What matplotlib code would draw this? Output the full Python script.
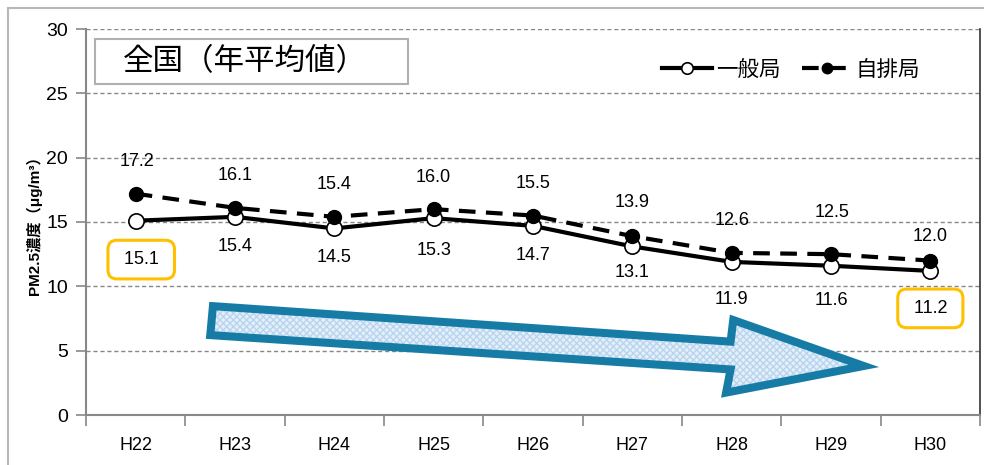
import numpy as np
import matplotlib
matplotlib.use("Agg")
import matplotlib.pyplot as plt
from matplotlib.patches import Polygon, Rectangle
from matplotlib.lines import Line2D

plt.rcParams['font.family'] = ['Liberation Sans', 'Noto Sans CJK JP', 'DejaVu Sans']

years = ['H22', 'H23', 'H24', 'H25', 'H26', 'H27', 'H28', 'H29', 'H30']
ippan = [15.1, 15.4, 14.5, 15.3, 14.7, 13.1, 11.9, 11.6, 11.2]   # 一般局
jihai = [17.2, 16.1, 15.4, 16.0, 15.5, 13.9, 12.6, 12.5, 12.0]   # 自排局

# label offsets in points (hand tuned like the original)
off_up = [23, 23, 23, 23, 23, 24, 23, 30, 17]
off_dn = [-28, -21, -21, -23, -21, -19, -27, -25, -27]
dx_up = [1, 0, 0, 0, 0, 0, 0, 1, 0]
dx_dn = [4, 0, 0, 0, 0, 0, 0, 0, 0]

x = np.arange(len(years))
fig = plt.figure(figsize=(9.84, 4.65), dpi=100)
ax = fig.add_axes([86/984, 1-415/465, 894/984, 386/465])

# outer chart frame
fig.add_artist(Line2D([8/984, 1], [1-8/465, 1-8/465], color='#b8b8b8', lw=1.5))
fig.add_artist(Line2D([8/984, 8/984], [0, 1-8/465], color='#b8b8b8', lw=1.5))

ax.plot(x, ippan, '-', color='black', lw=3, marker='o', ms=11,
        mfc='white', mec='black', mew=1.2, label='一般局', zorder=3)
ax.plot(x, jihai, '--', color='black', lw=3, dashes=(4, 2.5), marker='o', ms=10,
        mfc='black', mec='black', label='自排局', zorder=4)

for i in range(len(x)):
    ax.annotate(f'{jihai[i]:.1f}', (x[i], jihai[i]), xytext=(dx_up[i], off_up[i]),
                textcoords='offset points', ha='center', va='center', fontsize=13)
    lab = f'{ippan[i]:.1f}'
    bb = None
    if i in (0, len(x) - 1):
        lab = ' ' + lab + ' '
        bb = dict(boxstyle='round,pad=0.6,rounding_size=0.5', fc='white', ec='#FFC000', lw=2.2)
    ax.annotate(lab, (x[i], ippan[i]), xytext=(dx_dn[i], off_dn[i]),
                textcoords='offset points', ha='center', va='center', fontsize=13, bbox=bb)

# big trend arrow
arrow = [(0.142, 0.282), (0.721, 0.190), (0.724, 0.246), (0.870, 0.127),
         (0.716, 0.058), (0.721, 0.118), (0.139, 0.207)]
ax.add_patch(Polygon(arrow, closed=True, transform=ax.transAxes, fc='#e4eff9',
                     ec='#b9d5ee', hatch='xxxxx', lw=0, zorder=1))
ax.add_patch(Polygon(arrow, closed=True, transform=ax.transAxes, fill=False,
                     ec='#167ca6', lw=5.8, joinstyle='miter', zorder=2))

# title box
ax.add_patch(Rectangle((0.010, 0.858), 0.350, 0.116, transform=ax.transAxes,
                       fc='white', ec='#b0b0b0', lw=1.5, zorder=5))
ax.text(0.041, 0.915, '全国（年平均値）', transform=ax.transAxes, fontsize=22,
        va='center', ha='left', family=['Noto Sans CJK JP', 'DejaVu Sans'], zorder=6)

ax.set_xlim(-0.5, len(x) - 0.5)
ax.set_ylim(0, 30)
ax.set_yticks(np.arange(0, 31, 5))
ax.set_xticks(x)
ax.set_xticklabels(years, fontsize=13)
ax.set_xticks(np.arange(-0.5, len(x), 1), minor=True)
ax.tick_params(axis='x', which='major', length=0, pad=16)
ax.tick_params(axis='x', which='minor', length=8, color='#888888', width=1.2)
ax.tick_params(axis='y', length=7, color='#888888', width=1.2, labelsize=14, pad=6)
for v in np.arange(5, 31, 5):
    ax.axhline(v, color='#888888', lw=1, ls=(0, (3, 2)), zorder=0)
ax.spines['top'].set_visible(False)
ax.spines['left'].set_color('#888888')
ax.spines['bottom'].set_color('#888888')
ax.spines['left'].set_linewidth(1.5)
ax.spines['bottom'].set_linewidth(1.5)
ax.spines['right'].set_color('#333333')
ax.spines['right'].set_linewidth(1.2)

ax.set_ylabel('PM2.5濃度（μg/m³）', fontsize=11, fontweight='bold', labelpad=3,
              family=['Liberation Sans', 'Noto Sans CJK JP', 'DejaVu Sans'])

ax.legend(loc='center right', bbox_to_anchor=(0.955, 0.894), ncol=2, frameon=False,
          handlelength=2.3, handletextpad=0.2, columnspacing=1.0,
          markerscale=0.75, prop={'family': ['Noto Sans CJK JP'], 'size': 15.5})

fig.savefig('out.png', dpi=100)
